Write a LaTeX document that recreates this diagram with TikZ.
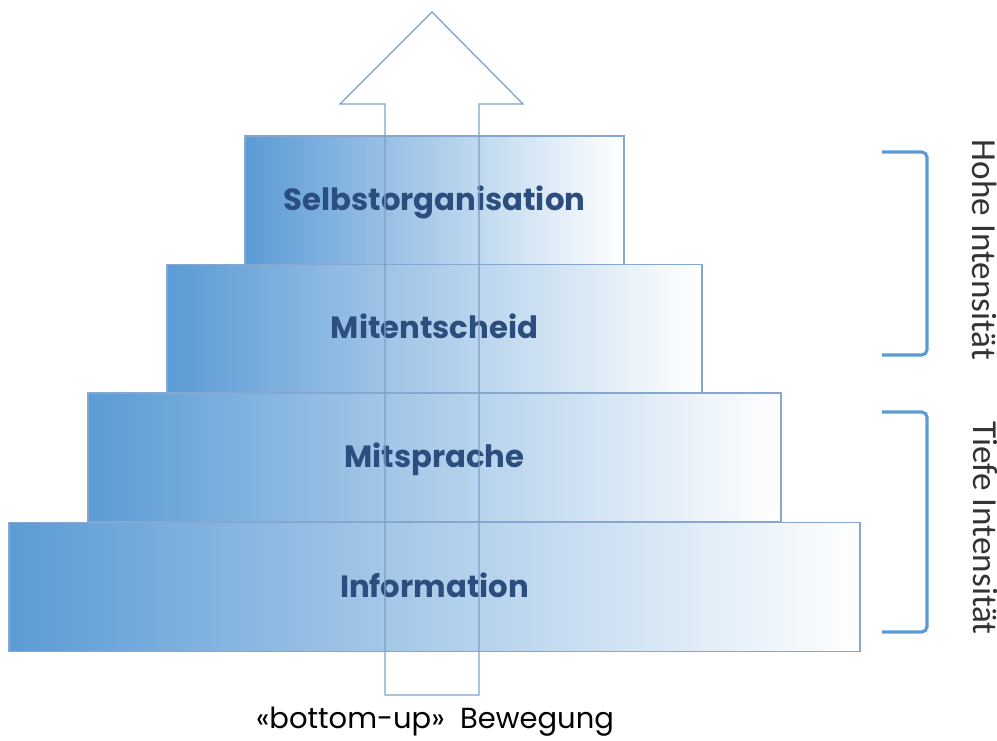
\documentclass[tikz,border=0pt]{standalone}
\usepackage{fontspec}
\setmainfont{Poppins}
\newfontfamily\sidefont{Carlito}
\usetikzlibrary{positioning}
\definecolor{stufe-blue}{HTML}{5B9BD5}
\definecolor{stufe-line}{HTML}{86A8D0}
\definecolor{stufe-text}{HTML}{2B4E7E}
\definecolor{pfeil-line}{HTML}{7E9FC9}
\definecolor{klammer-blue}{HTML}{5B9BD5}

\tikzset{
  stufe/.style={draw=stufe-line, line width=0.7pt, left color=stufe-blue,
    right color=white, minimum height=2.58cm, inner sep=0pt,
    text height=0.40cm, text depth=0pt,
    text=stufe-text, font=\bfseries\fontsize{17.5}{20}\selectfont},
  klammer/.style={draw=klammer-blue, line width=1.8pt, rounded corners=3pt},
  seite/.style={rotate=-90, font=\sidefont\fontsize{20}{24}\selectfont, text=black!80}
}

\begin{document}
\begin{tikzpicture}
    \useasboundingbox (0,0) rectangle (19.94,14.8);
    % pyramid steps
    \node[stufe, minimum width=7.58cm]  (selbst) at (8.69,10.79) {Selbstorganisation};
    \node[stufe, minimum width=10.70cm] (mitent) at (8.69,8.22)  {Mitentscheid};
    \node[stufe, minimum width=13.86cm] (mitspr) at (8.69,5.65)  {Mitsprache};
    \node[stufe, minimum width=17.02cm] (info)   at (8.69,3.06)  {Information};
    % bottom-up arrow
    \draw[pfeil-line, line width=0.7pt]
      (7.70,0.90) -- (7.70,12.72) -- (6.80,12.72) -- (8.64,14.56)
      -- (10.46,12.72) -- (9.58,12.72) -- (9.58,0.90) -- cycle;
    \node[font=\fontsize{16.5}{19}\selectfont] (bewegung) at (8.70,0.36)
      {«bottom-up»\ \ Bewegung};
    % brackets
    \draw[klammer] (17.64,11.76) -- (18.54,11.76) -- (18.54,7.70) -- (17.64,7.70);
    \draw[klammer] (17.64,6.56) -- (18.54,6.56) -- (18.54,2.16) -- (17.64,2.16);
    \node[seite] (hoch) at (19.70,9.80) {Hohe Intensität};
    \node[seite] (tief) at (19.70,4.24) {Tiefe Intensität};
\end{tikzpicture}
\end{document}
